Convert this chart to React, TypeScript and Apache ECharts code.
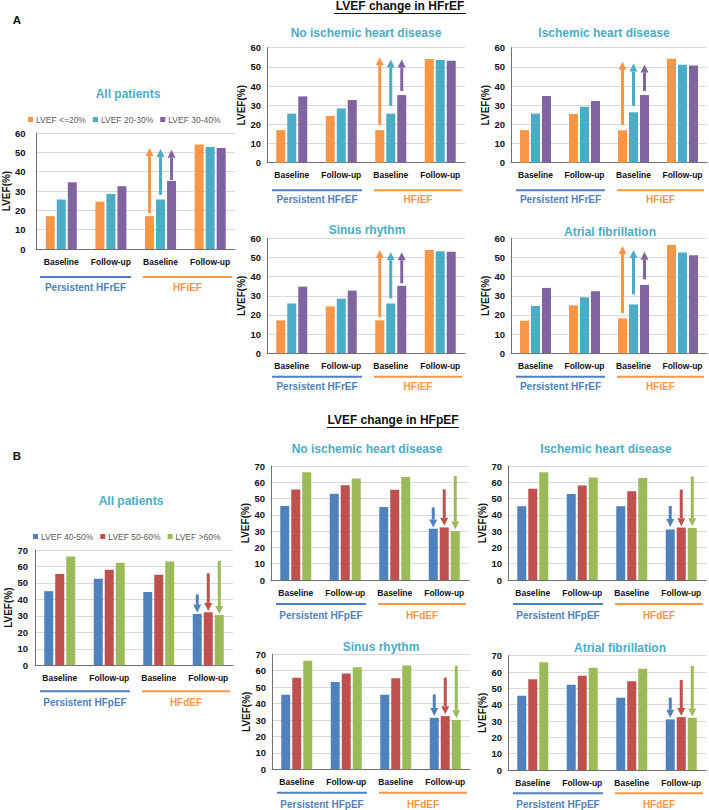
import React, { useEffect, useRef } from 'react';
import * as echarts from 'echarts';

// ---------- data ----------
const CATEGORIES = ['Baseline', 'Follow-up', 'Baseline', 'Follow-up'];
const HFREF_NAMES = ['LVEF <=20%', 'LVEF 20-30%', 'LVEF 30-40%'];
const HFPEF_NAMES = ['LVEF 40-50%', 'LVEF 50-60%', 'LVEF >60%'];
const HFREF_GROUPS = ['Persistent HFrEF', 'HFiEF'];
const HFPEF_GROUPS = ['Persistent HFpEF', 'HFdEF'];
const HFREF_Y_MAX = 60;
const HFPEF_Y_MAX = 70;
const Y_STEP = 10;
const HFREF_ARROW_CATEGORY = 2; // arrows rise from HFiEF baseline
const HFPEF_ARROW_CATEGORY = 3; // arrows fall onto HFdEF follow-up

// A: HFrEF
const aAllLe20 = [17, 24.5, 17, 54];
const aAll2030 = [25.6, 28.5, 25.6, 52.8];
const aAll3040 = [34.5, 32.5, 35.2, 52.3];
const aAllArrows = [[18.5, 52.3], [28, 51.7], [35.7, 51.3]];

const aNoIhdLe20 = [17, 24.3, 17, 54.1];
const aNoIhd2030 = [25.6, 28.3, 25.6, 53.6];
const aNoIhd3040 = [34.6, 32.7, 35.3, 53.2];
const aNoIhdArrows = [[19.7, 55], [29.6, 53.9], [37.4, 53.9]];

const aIhdLe20 = [17, 25.4, 16.9, 54.3];
const aIhd2030 = [25.6, 29.2, 26.3, 51.1];
const aIhd3040 = [34.8, 32.2, 35.3, 50.7];
const aIhdArrows = [[19.7, 52.7], [29.6, 51.8], [37.4, 51.3]];

const aSrLe20 = [17.2, 24.5, 17.2, 53.9];
const aSr2030 = [26, 28.5, 26, 53.3];
const aSr3040 = [34.8, 32.7, 35.2, 53];
const aSrArrows = [[18.8, 53.9], [28.7, 52.7], [36.5, 52.7]];

const aAfLe20 = [17, 25, 18.2, 56.5];
const aAf2030 = [24.7, 29.2, 25.5, 52.6];
const aAf3040 = [34.1, 32.4, 35.7, 51.2];
const aAfArrows = [[20.9, 56], [30.8, 53.9], [38.6, 53]];

// B: HFpEF
const bAll4050 = [45, 52.5, 44.5, 31.2];
const bAll5060 = [55.5, 58, 55, 32.2];
const bAllGt60 = [66, 62.2, 63, 30.5];
const bAllArrows = [[43, 32], [55.8, 33], [63.5, 31.2]];

const bNoIhd4050 = [45.5, 53, 44.8, 31.5];
const bNoIhd5060 = [55.6, 58.2, 55.4, 32.3];
const bNoIhdGt60 = [66.2, 62.3, 63.3, 30];
const bNoIhdArrows = [[44.6, 32.3], [55.7, 33.3], [63.9, 31]];

const bIhd4050 = [45.3, 52.8, 45.3, 31];
const bIhd5060 = [56, 58, 54.5, 32.2];
const bIhdGt60 = [66.2, 63, 62.7, 32];
const bIhdArrows = [[45.5, 32.5], [55.5, 33], [63.5, 33]];

const bSr4050 = [45.4, 53.2, 45.4, 31.4];
const bSr5060 = [55.8, 58.3, 55.4, 32.4];
const bSrGt60 = [66, 62.1, 63.2, 30];
const bSrArrows = [[45.6, 32.5], [55.8, 33.5], [63, 31]];

const bAf4050 = [45.5, 52.2, 44.3, 31];
const bAf5060 = [55.6, 57.7, 54.3, 32.4];
const bAfGt60 = [66, 62.6, 62, 32];
const bAfArrows = [[44.3, 32], [55.1, 33], [63.7, 32.7]];

// ---------- styles ----------
const FONT = '"Liberation Sans", Arial, sans-serif';
const HFREF_COLORS = ['#F79646', '#4BACC6', '#8064A2'];
const HFPEF_COLORS = ['#4F81BD', '#C0504D', '#9BBB59'];
const TITLE_COLOR = '#4BACC6';
const GROUP_COLORS = ['#4F81BD', '#F79646'];
const AXIS_COLOR = '#6f6f6f';
const GRID_COLOR = '#d9d9d9';
const BAR_W = 9;
const BAR_GAP_PX = 2;

type Panel = {
  title: string;
  kind: 'A' | 'B';
  values: number[][];
  arrows: number[][];
  left: number;
  top: number;
  width: number;
  height: number;
  tx: number;
  ty: number;
  lineDy: number;
  labelDy: number;
  labelMargin: number;
};

const panels: Panel[] = [
  { title: 'All patients', kind: 'A', values: [aAllLe20, aAll2030, aAll3040], arrows: aAllArrows,
    left: 35, top: 133, width: 200, height: 116, tx: 128, ty: 94, lineDy: 28, labelDy: 38, labelMargin: 11 },
  { title: 'No ischemic heart disease', kind: 'A', values: [aNoIhdLe20, aNoIhd2030, aNoIhd3040], arrows: aNoIhdArrows,
    left: 267, top: 47.7, width: 198, height: 115, tx: 366, ty: 33, lineDy: 27.5, labelDy: 37, labelMargin: 6 },
  { title: 'Ischemic heart disease', kind: 'A', values: [aIhdLe20, aIhd2030, aIhd3040], arrows: aIhdArrows,
    left: 511, top: 47.7, width: 196, height: 115, tx: 604, ty: 33, lineDy: 27.5, labelDy: 37, labelMargin: 6 },
  { title: 'Sinus rhythm', kind: 'A', values: [aSrLe20, aSr2030, aSr3040], arrows: aSrArrows,
    left: 267, top: 238.3, width: 198, height: 115, tx: 367, ty: 230, lineDy: 23.5, labelDy: 33.5, labelMargin: 6 },
  { title: 'Atrial fibrillation', kind: 'A', values: [aAfLe20, aAf2030, aAf3040], arrows: aAfArrows,
    left: 511, top: 238.3, width: 196, height: 115, tx: 610, ty: 232, lineDy: 23.5, labelDy: 33.5, labelMargin: 6 },
  { title: 'All patients', kind: 'B', values: [bAll4050, bAll5060, bAllGt60], arrows: bAllArrows,
    left: 35, top: 550, width: 198, height: 115.3, tx: 131, ty: 501, lineDy: 26, labelDy: 37, labelMargin: 7 },
  { title: 'No ischemic heart disease', kind: 'B', values: [bNoIhd4050, bNoIhd5060, bNoIhdGt60], arrows: bNoIhdArrows,
    left: 271, top: 466, width: 198, height: 114, tx: 367, ty: 449, lineDy: 24, labelDy: 35, labelMargin: 6 },
  { title: 'Ischemic heart disease', kind: 'B', values: [bIhd4050, bIhd5060, bIhdGt60], arrows: bIhdArrows,
    left: 508, top: 466, width: 198, height: 114, tx: 606, ty: 449, lineDy: 24, labelDy: 35, labelMargin: 6 },
  { title: 'Sinus rhythm', kind: 'B', values: [bSr4050, bSr5060, bSrGt60], arrows: bSrArrows,
    left: 272, top: 654.3, width: 198, height: 115, tx: 381, ty: 647, lineDy: 23.4, labelDy: 34.7, labelMargin: 6 },
  { title: 'Atrial fibrillation', kind: 'B', values: [bAf4050, bAf5060, bAfGt60], arrows: bAfArrows,
    left: 508, top: 655.7, width: 198, height: 114.3, tx: 620, ty: 648, lineDy: 23.3, labelDy: 34.3, labelMargin: 6 },
];

function buildOption() {
  const grid: any[] = [];
  const xAxis: any[] = [];
  const yAxis: any[] = [];
  const series: any[] = [];
  const graphic: any[] = [];

  panels.forEach((p, i) => {
    const isA = p.kind === 'A';
    const names = isA ? HFREF_NAMES : HFPEF_NAMES;
    const colors = isA ? HFREF_COLORS : HFPEF_COLORS;
    const groups = isA ? HFREF_GROUPS : HFPEF_GROUPS;
    grid.push({ left: p.left, top: p.top, width: p.width, height: p.height, containLabel: false });
    xAxis.push({
      gridIndex: i, type: 'category', data: CATEGORIES,
      axisTick: { show: false },
      axisLine: { lineStyle: { color: AXIS_COLOR, width: 1 } },
      axisLabel: { interval: 0, fontSize: 8.5, fontWeight: 'bold', color: '#111', margin: 8, fontFamily: FONT },
    });
    yAxis.push({
      gridIndex: i, type: 'value', min: 0, max: isA ? HFREF_Y_MAX : HFPEF_Y_MAX, interval: Y_STEP,
      name: 'LVEF(%)', nameLocation: 'middle', nameGap: 21,
      nameTextStyle: { fontSize: 10, fontWeight: 'bold', color: '#111', fontFamily: FONT },
      axisLine: { show: true, lineStyle: { color: AXIS_COLOR, width: 1 } },
      axisTick: { show: false },
      splitLine: { lineStyle: { color: GRID_COLOR, width: 1 } },
      axisLabel: { fontSize: 9.5, fontWeight: 'bold', color: '#111', margin: p.labelMargin, fontFamily: FONT },
    });
    p.values.forEach((vals, k) => {
      series.push({
        type: 'bar', name: names[k], xAxisIndex: i, yAxisIndex: i, data: vals,
        barWidth: BAR_W, barGap: `${(BAR_GAP_PX / BAR_W) * 100}%`,
        itemStyle: { color: colors[k] }, emphasis: { disabled: true },
      });
    });
    const cat = isA ? HFREF_ARROW_CATEGORY : HFPEF_ARROW_CATEGORY;
    series.push({
      type: 'custom', name: 'arrows-' + i, xAxisIndex: i, yAxisIndex: i, z: 5,
      encode: { x: 0, y: [1, 2] },
      data: p.arrows.map((a, k) => [cat, a[0], a[1], k]),
      renderItem: (params: any, api: any) => {
        const c = api.value(0);
        const k = api.value(3);
        const p0 = api.coord([c, api.value(1)]);
        const p1 = api.coord([c, api.value(2)]);
        const x = p0[0] + (k - 1) * (BAR_W + BAR_GAP_PX);
        const dir = p1[1] < p0[1] ? -1 : 1;
        const headH = 8, headW = 8, shaftW = 3;
        const neck = p1[1] - dir * headH;
        const color = colors[k];
        return {
          type: 'group',
          children: [
            { type: 'rect', shape: { x: x - shaftW / 2, y: Math.min(p0[1], neck), width: shaftW, height: Math.abs(neck - p0[1]) }, style: { fill: color } },
            { type: 'polygon', shape: { points: [[x - headW / 2, neck], [x + headW / 2, neck], [x, p1[1]]] }, style: { fill: color } },
          ],
        };
      },
    });

    // panel title
    graphic.push({
      type: 'text', x: p.tx, y: p.ty,
      style: { text: p.title, fill: TITLE_COLOR, fontSize: 12, fontWeight: 'bold', fontFamily: FONT, textAlign: 'center', textVerticalAlign: 'middle' },
    });
    // group underlines and labels
    const cw = p.width / 4;
    const bottom = p.top + p.height;
    const spans = [[p.left + 5, p.left + 2 * cw - 4], [p.left + 2 * cw + 8, p.left + 4 * cw - 3]];
    spans.forEach((s, g) => {
      graphic.push({
        type: 'line', shape: { x1: s[0], y1: bottom + p.lineDy, x2: s[1], y2: bottom + p.lineDy },
        style: { stroke: GROUP_COLORS[g], lineWidth: 2 },
      });
      graphic.push({
        type: 'text', x: (s[0] + s[1]) / 2, y: bottom + p.labelDy,
        style: { text: groups[g], fill: GROUP_COLORS[g], fontSize: 10, fontWeight: 'bold', fontFamily: FONT, textAlign: 'center', textVerticalAlign: 'middle' },
      });
    });
  });

  // section headings
  const headings = [
    { text: 'A', x: 17, y: 20 },
    { text: 'B', x: 17, y: 456 },
  ];
  headings.forEach((h) => graphic.push({
    type: 'text', x: h.x, y: h.y,
    style: { text: h.text, fill: '#111', fontSize: 11.5, fontWeight: 'bold', fontFamily: FONT, textAlign: 'center', textVerticalAlign: 'middle' },
  }));
  const mainTitles = [
    { text: 'LVEF change in HFrEF', x: 400, y: 6 },
    { text: 'LVEF change in HFpEF', x: 393, y: 420 },
  ];
  mainTitles.forEach((t) => {
    graphic.push({
      type: 'text', x: t.x, y: t.y,
      style: { text: t.text, fill: '#111', fontSize: 12, fontWeight: 'bold', fontFamily: FONT, textAlign: 'center', textVerticalAlign: 'middle' },
    });
    graphic.push({
      type: 'line', shape: { x1: t.x - 66, y1: t.y + 7.5, x2: t.x + 66, y2: t.y + 7.5 },
      style: { stroke: '#111', lineWidth: 1 },
    });
  });

  const legendCommon = {
    orient: 'horizontal', icon: 'rect', itemWidth: 5, itemHeight: 5, itemGap: 7,
    textStyle: { fontSize: 8.5, color: '#595959', fontFamily: FONT, padding: [0, 0, 0, -2] },
    selectedMode: false,
  };

  return {
    animation: false,
    backgroundColor: '#ffffff',
    grid, xAxis, yAxis, series, graphic,
    legend: [
      { ...legendCommon, data: HFREF_NAMES, left: 23, top: 110 },
      { ...legendCommon, data: HFPEF_NAMES, left: 28, top: 527 },
    ],
  };
}

export default function App() {
  const ref = useRef<HTMLDivElement>(null);
  useEffect(() => {
    if (!ref.current) return;
    const chart = echarts.init(ref.current, undefined, { renderer: 'svg' });
    chart.setOption(buildOption() as any);
    return () => chart.dispose();
  }, []);
  return (
    <div
      ref={ref}
      style={{ position: 'fixed', left: 0, top: 0, width: 709, height: 810, background: '#fff' }}
    />
  );
}
